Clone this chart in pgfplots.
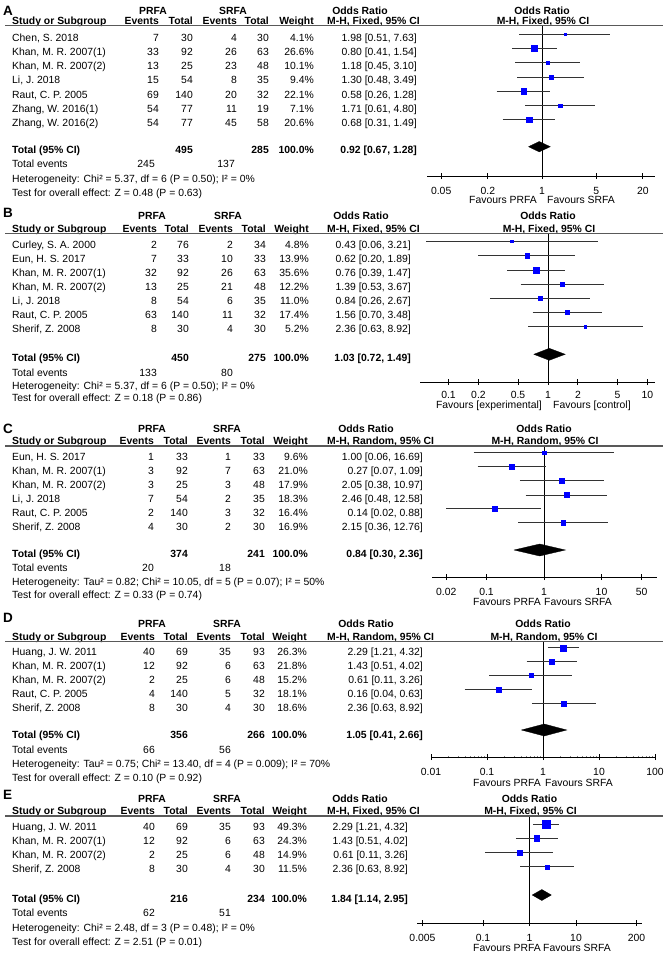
\documentclass[border=0pt]{standalone}
\usepackage{fontspec}
\setmainfont{Liberation Sans}
\usepackage{pgfplots}
\pgfplotsset{compat=1.18}

\newcommand\fs{\fontsize{10.4}{12}\selectfont}
\newcommand\lfs{\fontsize{13.5}{15}\selectfont\bfseries}

\pgfplotsset{
  fpax/.style={scale only axis, anchor=south west,
    axis x line*=bottom, axis y line=none, clip=false,
    tick align=center, major tick length=6pt,
    axis line style={black, line width=0.9pt},
    major tick style={black, line width=0.9pt},
    xticklabel style={font=\fs, anchor=base, inner sep=0pt, yshift=-15pt}},
  ci/.style={black!80, line width=0.8pt, mark=none},
  sq/.style={only marks, mark=square*, color=blue, mark options={line width=0.2pt}},
  dia/.style={fill=black, draw=black, line width=0.3pt, mark=none},
  nul/.style={black, line width=0.9pt, mark=none},
}

% study: marker y (px from top), OR, lower, upper, weight
\newcommand\st[5]{%
  \addplot[ci] coordinates {(#3,-#1) (#4,-#1)};
  \addplot[sq, mark size={0.525*sqrt(#5)+0.2}] coordinates {(#2,-#1)};}
% pooled diamond: y, top, bottom, OR, lower, upper
\newcommand\dm[6]{%
  \addplot[dia] coordinates {(#5,-#1) (#4,-#2) (#6,-#1) (#4,-#3) (#5,-#1)};}

% table text
\newcommand\cols[6]{\def\ca{#1}\def\cb{#2}\def\cc{#3}\def\cd{#4}\def\ce{#5}\def\cf{#6}}
\newcommand\rw[8]{%
  \node[anchor=base west] at (12,#1) {#2};
  \node[anchor=base east] at (\ca,#1) {#3};
  \node[anchor=base east] at (\cb,#1) {#4};
  \node[anchor=base east] at (\cc,#1) {#5};
  \node[anchor=base east] at (\cd,#1) {#6};
  \node[anchor=base east] at (\ce,#1) {#7\%};
  \node[anchor=base east] at (\cf,#1) {#8};}
% letter, letter base, group base, rule y, PRFA x, SRFA x, mid OR x, null x, method
\newcommand\hd[9]{%
  \node[anchor=base west, font=\lfs] at (3,#2) {#1};
  \node[anchor=base, font=\fs\bfseries] at (#5,#3) {PRFA};
  \node[anchor=base, font=\fs\bfseries] at (#6,#3) {SRFA};
  \node[anchor=base, font=\fs\bfseries] at (#7,#3) {Odds Ratio};
  \node[anchor=base, font=\fs\bfseries] at (#8,#3) {Odds Ratio};
  \node[anchor=base west, font=\fs\bfseries] at (12,{#4-1.5}) {Study or Subgroup};
  \node[anchor=base east, font=\fs\bfseries] at (\ca,{#4-1.5}) {Events};
  \node[anchor=base east, font=\fs\bfseries] at (\cb,{#4-1.5}) {Total};
  \node[anchor=base east, font=\fs\bfseries] at (\cc,{#4-1.5}) {Events};
  \node[anchor=base east, font=\fs\bfseries] at (\cd,{#4-1.5}) {Total};
  \node[anchor=base east, font=\fs\bfseries] at (\ce,{#4-1.5}) {Weight};
  \node[anchor=base west, font=\fs\bfseries] at (327,{#4-1.5}) {M-H, #9, 95\% CI};
  \node[anchor=base, font=\fs\bfseries] at ({#8+1},{#4-1.5}) {M-H, #9, 95\% CI};
  \draw[black!65, line width=1.2pt] (5,#4) -- (663,#4);}
\newcommand\tot[4]{%
  \node[anchor=base west, font=\fs\bfseries] at (12,#1) {Total (95\% CI)};
  \node[anchor=base east, font=\fs\bfseries] at (\cb,#1) {#2};
  \node[anchor=base east, font=\fs\bfseries] at (\cd,#1) {#3};
  \node[anchor=base east, font=\fs\bfseries] at (\ce,#1) {100.0\%};
  \node[anchor=base east, font=\fs\bfseries] at (\cf,#1) {#4};}
\newcommand\tev[3]{%
  \node[anchor=base west] at (12,#1) {Total events};
  \node[anchor=base east] at (\ca,#1) {#2};
  \node[anchor=base east] at (\cc,#1) {#3};}
\newcommand\fav[5]{%
  \node[anchor=base east] at (#1,#3) {#4};
  \node[anchor=base west] at (#2,#3) {#5};}

\begin{document}
\begin{tikzpicture}
\useasboundingbox (0pt,0pt) rectangle (665pt,-953pt);

% ---------- plots ----------
\begin{axis}[fpax, xmode=log, at={(427pt,-176pt)}, width=228pt, height=150.5pt,
  xmin=0.03281, xmax=28.72, ymin=-176, ymax=-25.5,
  xtick={0.05,0.2,1,5,20}, xticklabels={0.05,0.2,1,5,20}]
\addplot[nul] coordinates {(1,-25.5) (1,-176)};
\st{34}{1.98}{0.51}{7.63}{4.1}
\st{48.3}{0.80}{0.41}{1.54}{26.6}
\st{62.6}{1.18}{0.45}{3.10}{10.1}
\st{76.9}{1.30}{0.48}{3.49}{9.4}
\st{91.2}{0.58}{0.26}{1.28}{22.1}
\st{105.5}{1.71}{0.61}{4.80}{7.1}
\st{119.8}{0.68}{0.31}{1.49}{20.6}
\dm{146.7}{141.5}{151.9}{0.92}{0.67}{1.28}
\end{axis}

\begin{axis}[fpax, xmode=log, at={(420pt,-382pt)}, width=235pt, height=148.5pt,
  xmin=0.05171, xmax=11.90, ymin=-382, ymax=-233.5,
  xticklabel style={yshift=1.5pt},
  xtick={0.1,0.2,0.5,1,2,5,10}, xticklabels={0.1,0.2,0.5,1,2,5,10}]
\addplot[nul] coordinates {(1,-233.5) (1,-382)};
\st{241}{0.43}{0.06}{3.21}{4.8}
\st{255.7}{0.62}{0.20}{1.89}{13.9}
\st{270}{0.76}{0.39}{1.47}{35.6}
\st{284}{1.39}{0.53}{3.67}{12.2}
\st{298.3}{0.84}{0.26}{2.67}{11.0}
\st{312}{1.56}{0.70}{3.48}{17.4}
\st{326.7}{2.36}{0.63}{8.92}{5.2}
\dm{354.3}{348.3}{360.3}{1.03}{0.72}{1.49}
\end{axis}

\begin{axis}[fpax, xmode=log, at={(432pt,-577pt)}, width=225pt, height=131pt,
  xmin=0.01128, xmax=92.3, ymin=-577, ymax=-446,
  xtick={0.02,0.1,1,10,50}, xticklabels={0.02,0.1,1,10,50}]
\addplot[nul] coordinates {(1,-446) (1,-577)};
\st{452.7}{1.00}{0.06}{16.69}{9.6}
\st{466.7}{0.27}{0.07}{1.09}{21.0}
\st{480.7}{2.05}{0.38}{10.97}{17.9}
\st{495}{2.46}{0.48}{12.58}{18.3}
\st{508.3}{0.14}{0.02}{0.88}{16.4}
\st{522.7}{2.15}{0.36}{12.76}{16.9}
\dm{550}{544}{556}{0.84}{0.30}{2.36}
\end{axis}

\begin{axis}[fpax, xmode=log, at={(431pt,-757pt)}, width=224pt, height=115.5pt,
  xmin=0.01, xmax=100, ymin=-757, ymax=-641.5,
  xtick={0.01,0.1,1,10,100}, xticklabels={0.01,0.1,1,10,100}]
\addplot[nul] coordinates {(1,-641.5) (1,-757)};
\st{647.7}{2.29}{1.21}{4.32}{26.3}
\st{661.7}{1.43}{0.51}{4.02}{21.8}
\st{675}{0.61}{0.11}{3.26}{15.2}
\st{689.3}{0.16}{0.04}{0.63}{18.1}
\st{703.3}{2.36}{0.63}{8.92}{18.6}
\dm{730}{724}{736}{1.05}{0.41}{2.66}
\end{axis}

\begin{axis}[fpax, xmode=log, at={(417pt,-923pt)}, width=225pt, height=107pt,
  xmin=0.003810, xmax=262.4, ymin=-923, ymax=-816,
  xtick={0.005,0.1,1,10,200}, xticklabels={0.005,0.1,1,10,200}]
\addplot[nul] coordinates {(1,-816) (1,-923)};
\st{824}{2.29}{1.21}{4.32}{49.3}
\st{838.3}{1.43}{0.51}{4.02}{24.3}
\st{852.7}{0.61}{0.11}{3.26}{14.9}
\st{866.7}{2.36}{0.63}{8.92}{11.5}
\dm{895}{889.5}{900.5}{1.84}{1.14}{2.95}
\end{axis}

% ---------- table text ----------
\begin{scope}[x=1pt, y=-1pt, every node/.style={font=\fs, inner sep=0pt}]
% A
\cols{159}{193}{237}{269}{314}{417}
\hd{A}{15}{14.5}{25.5}{153}{233}{360}{542}{Fixed}
\rw{41}{Chen, S. 2018}{7}{30}{4}{30}{4.1}{1.98 [0.51, 7.63]}
\rw{55.3}{Khan, M. R. 2007(1)}{33}{92}{26}{63}{26.6}{0.80 [0.41, 1.54]}
\rw{69.6}{Khan, M. R. 2007(2)}{13}{25}{23}{48}{10.1}{1.18 [0.45, 3.10]}
\rw{83.9}{Li, J. 2018}{15}{54}{8}{35}{9.4}{1.30 [0.48, 3.49]}
\rw{98.2}{Raut, C. P. 2005}{69}{140}{20}{32}{22.1}{0.58 [0.26, 1.28]}
\rw{112.5}{Zhang, W. 2016(1)}{54}{77}{11}{19}{7.1}{1.71 [0.61, 4.80]}
\rw{126.8}{Zhang, W. 2016(2)}{54}{77}{45}{58}{20.6}{0.68 [0.31, 1.49]}
\tot{153.3}{495}{285}{0.92 [0.67, 1.28]}
\node[anchor=base west] at (12,167.3) {Total events};
\node[anchor=base east] at (155,167.3) {245};
\node[anchor=base east] at (235,167.3) {137};
\node[anchor=base west] at (12,182) {Heterogeneity: Chi² = 5.37, df = 6 (P = 0.50); I² = 0\%};
\node[anchor=base west] at (12,196) {Test for overall effect: Z = 0.48 (P = 0.63)};
\fav{537}{547}{203}{Favours PRFA}{Favours SRFA}
% B
\cols{157}{189}{233}{266}{309}{411}
\hd{B}{217}{219.5}{233.5}{152}{228}{361}{548}{Fixed}
\rw{248}{Curley, S. A. 2000}{2}{76}{2}{34}{4.8}{0.43 [0.06, 3.21]}
\rw{262.1}{Eun, H. S. 2017}{7}{33}{10}{33}{13.9}{0.62 [0.20, 1.89]}
\rw{276.2}{Khan, M. R. 2007(1)}{32}{92}{26}{63}{35.6}{0.76 [0.39, 1.47]}
\rw{290.3}{Khan, M. R. 2007(2)}{13}{25}{21}{48}{12.2}{1.39 [0.53, 3.67]}
\rw{304.4}{Li, J. 2018}{8}{54}{6}{35}{11.0}{0.84 [0.26, 2.67]}
\rw{318.5}{Raut, C. P. 2005}{63}{140}{11}{32}{17.4}{1.56 [0.70, 3.48]}
\rw{332.6}{Sherif, Z. 2008}{8}{30}{4}{30}{5.2}{2.36 [0.63, 8.92]}
\tot{361}{450}{275}{1.03 [0.72, 1.49]}
\tev{376}{133}{80}
\node[anchor=base west] at (12,389) {Heterogeneity: Chi² = 5.37, df = 6 (P = 0.50); I² = 0\%};
\node[anchor=base west] at (12,401) {Test for overall effect: Z = 0.18 (P = 0.86)};
\fav{542}{553}{408}{Favours [experimental]}{Favours [control]}
% C
\cols{154}{188}{231}{265}{308}{423}
\hd{C}{433.5}{432}{446}{152}{227}{366}{544}{Random}
\rw{460}{Eun, H. S. 2017}{1}{33}{1}{33}{9.6}{1.00 [0.06, 16.69]}
\rw{474.1}{Khan, M. R. 2007(1)}{3}{92}{7}{63}{21.0}{0.27 [0.07, 1.09]}
\rw{488.2}{Khan, M. R. 2007(2)}{3}{25}{3}{48}{17.9}{2.05 [0.38, 10.97]}
\rw{502.3}{Li, J. 2018}{7}{54}{2}{35}{18.3}{2.46 [0.48, 12.58]}
\rw{516.4}{Raut, C. P. 2005}{2}{140}{3}{32}{16.4}{0.14 [0.02, 0.88]}
\rw{530.5}{Sherif, Z. 2008}{4}{30}{2}{30}{16.9}{2.15 [0.36, 12.76]}
\tot{557}{374}{241}{0.84 [0.30, 2.36]}
\tev{571}{20}{18}
\node[anchor=base west] at (12,585) {Heterogeneity: Tau² = 0.82; Chi² = 10.05, df = 5 (P = 0.07); I² = 50\%};
\node[anchor=base west] at (12,598) {Test for overall effect: Z = 0.33 (P = 0.74)};
\fav{541}{544}{605}{Favours PRFA}{Favours SRFA}
% D
\cols{155}{188}{231}{265}{307}{423}
\hd{D}{622}{627}{641.5}{152}{227}{366}{543}{Random}
\rw{655}{Huang, J. W. 2011}{40}{69}{35}{93}{26.3}{2.29 [1.21, 4.32]}
\rw{669}{Khan, M. R. 2007(1)}{12}{92}{6}{63}{21.8}{1.43 [0.51, 4.02]}
\rw{683}{Khan, M. R. 2007(2)}{2}{25}{6}{48}{15.2}{0.61 [0.11, 3.26]}
\rw{697}{Raut, C. P. 2005}{4}{140}{5}{32}{18.1}{0.16 [0.04, 0.63]}
\rw{711}{Sherif, Z. 2008}{8}{30}{4}{30}{18.6}{2.36 [0.63, 8.92]}
\tot{738}{356}{266}{1.05 [0.41, 2.66]}
\tev{753}{66}{56}
\node[anchor=base west] at (12,767) {Heterogeneity: Tau² = 0.75; Chi² = 13.40, df = 4 (P = 0.009); I² = 70\%};
\node[anchor=base west] at (12,781) {Test for overall effect: Z = 0.10 (P = 0.92)};
\fav{541}{545}{786}{Favours PRFA}{Favours SRFA}
% E
\cols{155}{188}{231}{265}{307}{408}
\hd{E}{799}{802}{816}{152}{227}{360}{529.5}{Fixed}
\rw{830}{Huang, J. W. 2011}{40}{69}{35}{93}{49.3}{2.29 [1.21, 4.32]}
\rw{844.2}{Khan, M. R. 2007(1)}{12}{92}{6}{63}{24.3}{1.43 [0.51, 4.02]}
\rw{858.4}{Khan, M. R. 2007(2)}{2}{25}{6}{48}{14.9}{0.61 [0.11, 3.26]}
\rw{872.6}{Sherif, Z. 2008}{8}{30}{4}{30}{11.5}{2.36 [0.63, 8.92]}
\tot{902}{216}{234}{1.84 [1.14, 2.95]}
\tev{916}{62}{51}
\node[anchor=base west] at (12,931) {Heterogeneity: Chi² = 2.48, df = 3 (P = 0.48); I² = 0\%};
\node[anchor=base west] at (12,945) {Test for overall effect: Z = 2.51 (P = 0.01)};
\fav{541}{543}{951}{Favours PRFA}{Favours SRFA}
\end{scope}
\end{tikzpicture}
\end{document}
